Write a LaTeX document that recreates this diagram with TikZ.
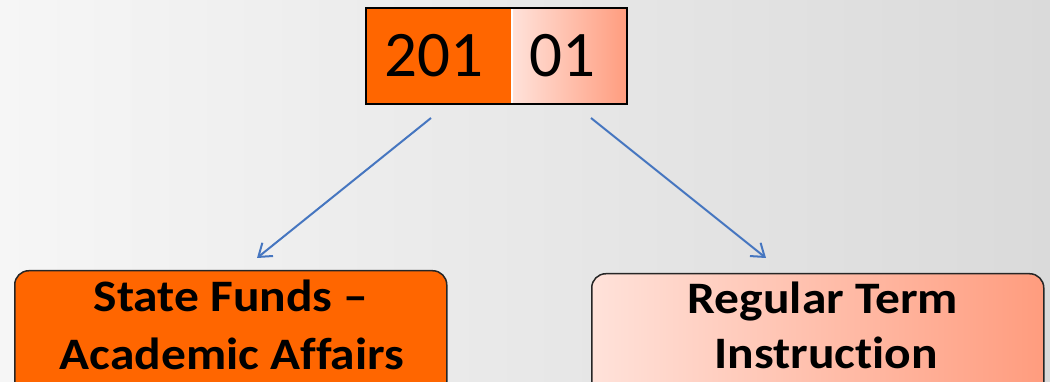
\documentclass[tikz,border=0pt]{standalone}
\usepackage{fontspec}
\setmainfont[Ligatures={NoCommon}]{Carlito}
\usetikzlibrary{arrows.meta}
\definecolor{bgleft}{HTML}{F6F6F6}
\definecolor{bgright}{HTML}{DADADA}
\definecolor{orangefill}{HTML}{FF6600}
\definecolor{peachlight}{HTML}{FFE2DA}
\definecolor{peachdark}{HTML}{FF9C7E}
\definecolor{linkblue}{HTML}{4676C0}
\newcommand{\widetext}[1]{\scalebox{1.1}[1]{#1}}
\tikzset{
  codebox/.style={rectangle, draw=none, inner sep=0pt, anchor=north west},
  codetext/.style={font=\fontsize{65}{65}\selectfont, text=black, anchor=base, inner sep=0pt},
  fundbox/.style={rectangle, rounded corners=14pt, draw=black!85, line width=1.5pt,
    inner sep=0pt, anchor=north west},
  fundtext/.style={font=\bfseries\fontsize{45}{45}\selectfont, text=black,
    anchor=base, inner sep=0pt},
  link/.style={draw=linkblue, line width=2pt,
    -{Straight Barb[length=12pt,width=17pt,line width=2pt]}}
}
\begin{document}
\begin{tikzpicture}[x=1pt,y=-1pt]
  % canvas
  \useasboundingbox (0,0) rectangle (1050,382);
  \clip (0,0) rectangle (1050,382);
  \shade[left color=bgleft, right color=bgright] (0,0) rectangle (1050,382);

  % account code: fund part and sub-code part
  \node[codebox, fill=orangefill, minimum width=146pt, minimum height=96pt] (fund) at (366,8) {};
  \node[codebox, left color=peachlight, right color=peachdark, minimum width=115pt, minimum height=96pt] (sub) at (512,8) {};
  \draw[white, line width=2pt] (fund.north east) -- (fund.south east);
  \draw[black, line width=2pt] (fund.north west) rectangle (sub.south east);
  \node[codetext] (fundlabel) at (434,77) {201};
  \node[codetext] (sublabel) at (562,77) {01};

  % descriptions
  \node[fundbox, fill=orangefill, minimum width=432pt, minimum height=130pt] (state) at (14,270) {};
  \node[fundbox, left color=peachlight, right color=peachdark, minimum width=452pt, minimum height=130pt] (regular) at (591,273) {};
  \node[fundtext] (stateA) at (231,312) {\widetext{State Funds –}};
  \node[fundtext] (stateB) at (232,369) {\widetext{Academic Affairs}};
  \node[fundtext] (regA) at (823,313) {\widetext{Regular Term}};
  \node[fundtext] (regB) at (826,368) {\widetext{Instruction}};

  % connectors
  \coordinate (fundout) at (431,118);
  \coordinate (subout) at (591,118);
  \coordinate (statein) at (257,258);
  \coordinate (regin) at (766,258);
  \draw[link] (fundout) -- (statein);
  \draw[link] (subout) -- (regin);
\end{tikzpicture}
\end{document}
